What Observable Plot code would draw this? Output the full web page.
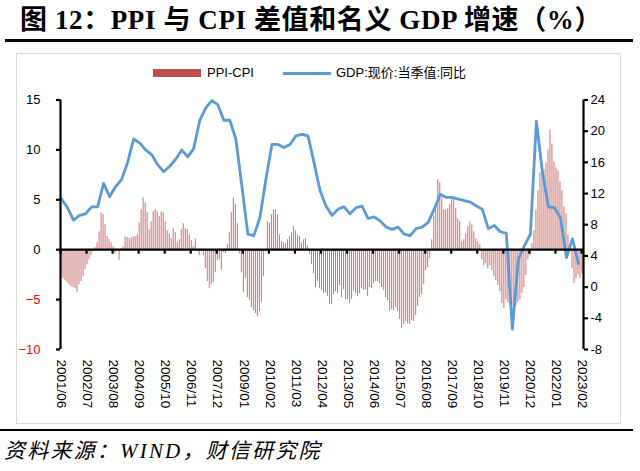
<!DOCTYPE html>
<html>
<head>
<meta charset="utf-8">
<script src="https://cdn.jsdelivr.net/npm/d3@7"></script>
<script src="https://cdn.jsdelivr.net/npm/@observablehq/plot@0.6"></script>
<style>
  body { margin: 0; background: white; }
  #wrap { position: relative; width: 640px; height: 471px; background: white; overflow: hidden; }
  #title { position: absolute; left: 20px; top: 4px; font-family: "Liberation Serif", "Noto Sans CJK SC", serif; font-weight: bold; font-size: 27px; letter-spacing: 0.6px; line-height: 32px; white-space: nowrap; color: #000; }
  .hrule { position: absolute; left: 5px; width: 628px; background: #000; }
  #chart { position: absolute; left: 0; top: 45px; }
  #box { position: absolute; left: 16px; top: 53px; width: 603px; height: 369px; border: 1px solid #d9d9d9; pointer-events: none; }
  .leg { position: absolute; font-family: "Liberation Sans", "Noto Sans CJK SC", sans-serif; font-size: 13px; line-height: 16px; color: #000; white-space: nowrap; }
  #source { position: absolute; left: 4px; top: 438px; font-family: "Liberation Serif", "Noto Sans CJK SC", serif; font-style: italic; font-size: 21px; letter-spacing: 2.2px; line-height: 26px; white-space: nowrap; color: #000; }
</style>
</head>
<body>
<div id="wrap">
  <div id="title">图 12：PPI 与 CPI 差值和名义 GDP 增速（%）</div>
  <div class="hrule" style="top:39px;height:3px"></div>
  <div id="chart"></div>
  <div id="box"></div>
  <div style="position:absolute;left:153px;top:69px;width:48px;height:8px;background:#c0504d"></div>
  <div class="leg" style="left:207px;top:65px">PPI-CPI</div>
  <div style="position:absolute;left:283px;top:72px;width:48px;height:3px;background:#5b9bd5"></div>
  <div class="leg" style="left:336px;top:65px">GDP:现价:当季值:同比</div>
  <div class="hrule" style="top:429px;height:2px;left:0;width:633px"></div>
  <div id="source">资料来源：WIND，财信研究院</div>
</div>
<script>
// PPI-CPI monthly spread, 2001/06 .. 2023/02
const ppiCpi = [
  -2.8, -2.9, -3.1, -3.3, -3.5, -3.7, -3.8,
  -3.9, -4.3, -3.5, -3.2, -2.7, -2.0, -1.5, -1.0, -0.6, -0.2, 0.2, 0.7,
  1.8, 3.7, 3.5, 2.5, 1.3, 1.0, 0.7, 0.3, -0.4, 0.1, -1.1, 0.1,
  0.3, 1.3, 1.2, 1.1, 1.2, 1.3, 1.3, 1.5, 2.7, 4.0, 5.2, 4.7,
  3.7, 2.0, 2.8, 3.8, 4.0, 3.8, 3.3, 3.8, 3.7, 2.8, 1.9, 1.6,
  1.1, 2.1, 1.7, 0.7, 1.0, 2.0, 2.6, 2.1, 2.0, 1.5, 0.9, 0.3,
  1.1, -0.1, -0.6, -0.1, -0.6, -1.9, -3.2, -3.9, -3.5, -3.3, -2.3, -1.1,
  -1.0, -2.1, -0.3, -0.4, 0.5, 1.7, 3.7, 5.2, 4.5, 2.6, -0.4, -2.3,
  -4.3, -2.9, -4.8, -5.1, -5.8, -6.1, -6.4, -6.7, -6.2, -5.3, -2.7, -0.2,
  2.8, 2.7, 3.5, 4.0, 4.0, 3.5, 1.5, 0.8, 0.7, 0.6, 1.0, 1.3,
  1.7, 2.3, 1.9, 1.5, 1.3, 0.7, 1.0, 1.1, 0.4, -0.5, -1.5, -2.4,
  -3.8, -3.2, -3.9, -4.1, -4.4, -4.3, -4.7, -5.5, -5.5, -4.5, -4.2, -4.4,
  -3.6, -4.8, -4.0, -5.0, -5.0, -5.4, -5.0, -4.2, -4.4, -4.7, -4.4, -3.9,
  -4.1, -4.0, -4.7, -3.8, -3.9, -3.4, -3.2, -3.2, -3.4, -3.8, -4.1, -4.8,
  -5.1, -6.2, -6.0, -6.1, -5.8, -6.2, -7.0, -7.9, -7.5, -7.2, -7.4, -7.5,
  -7.1, -7.2, -6.6, -5.7, -4.8, -4.5, -3.5, -2.1, -1.8, -0.9, 1.0, 3.4,
  4.4, 7.0, 6.7, 5.2, 4.0, 4.0, 4.1, 4.5, 5.3, 5.0, 4.1, 3.1,
  2.8, 0.8, 1.0, 1.6, 2.3, 2.8, 2.5, 1.8, 1.1, 0.8, 0.5, -1.0,
  -1.6, -1.4, -1.9, -1.6, -2.1, -2.7, -3.1, -3.6, -4.2, -5.4, -5.9, -5.0,
  -5.3, -5.6, -5.6, -5.9, -5.7, -5.3, -5.0, -4.4, -3.8, -2.6, -1.0, -0.6,
  0.6, 1.9, 4.0, 5.9, 7.7, 7.7, 8.0, 8.7, 10.0, 12.0, 10.6, 8.8,
  8.2, 7.9, 6.8, 5.9, 4.3, 3.6, 1.5, -0.2, -1.9, -3.4, -2.9, -2.5,
  -2.9, -2.4
];

// Nominal GDP, quarterly YoY (right axis), 2001Q2 .. 2022Q4
const gdpNominal = [
  11.3, 10.2, 8.6, 9.2, 9.4, 10.3, 10.3, 13.3, 11.6, 12.9, 13.8, 16.0,
  19.0, 18.5, 17.6, 17.0, 15.7, 14.8, 15.5, 16.4, 17.6, 16.7, 17.8, 21.4,
  23.0, 23.9, 23.4, 21.4, 21.4, 19.0, 13.0, 6.8, 6.6, 8.9, 13.8, 18.3,
  18.3, 17.9, 18.3, 19.4, 19.6, 19.4, 16.0, 12.4, 10.4, 9.2, 10.0, 10.3,
  9.4, 10.2, 10.4, 8.8, 9.0, 8.5, 7.7, 7.4, 7.7, 6.8, 6.6, 7.5,
  7.7, 8.3, 10.0, 11.9, 11.5, 11.5, 11.3, 11.1, 10.9, 10.4, 10.0, 7.5,
  7.9, 7.1, 6.9, -5.4, 3.6, 5.3, 6.8, 21.3, 14.7, 10.3, 10.2, 8.9,
  3.8, 6.2, 3.0
];

const xTickLabels = ["2001/06","2002/07","2003/08","2004/09","2005/10","2006/11","2007/12",
  "2009/01","2010/02","2011/03","2012/04","2013/05","2014/06","2015/07","2016/08",
  "2017/09","2018/10","2019/11","2020/12","2022/01","2023/02"];
const leftTicksPos = [0, 5, 10, 15];
const leftTicksNeg = [-5, -10];
const rightTicks = [-8, -4, 0, 4, 8, 12, 16, 20, 24];

const labelStep = 13;  // months between category labels
const gdpStep = 3;     // months between GDP observations

const leftMin = -10, leftMax = 15, rightMin = -8, rightMax = 24;
const toLeft = v => leftMin + (v - rightMin) * (leftMax - leftMin) / (rightMax - rightMin);
const fromLeft = l => rightMin + (l - leftMin) * (rightMax - rightMin) / (leftMax - leftMin);

const n = ppiCpi.length;
const months = d3.range(n);
const gdpIdx = d3.range(gdpNominal.length);
const labelPos = xTickLabels.map((_, k) => k * labelStep + 0.5);
const tickPos = xTickLabels.map((_, k) => k * labelStep);

const font = "'Liberation Sans', 'Noto Sans CJK SC', sans-serif";

const chart = Plot.plot({
  width: 640,
  height: 380,
  marginTop: 54.5,
  marginBottom: 76,
  marginLeft: 60,
  marginRight: 57,
  style: { background: "transparent", fontFamily: font, fontSize: "13px", color: "#000", overflow: "visible" },
  x: { domain: [0, n], axis: null },
  y: { domain: [leftMin, leftMax], axis: null },
  marks: [
    Plot.rect(months, { x1: i => i + 0.25, x2: i => i + 0.75, y1: 0, y2: i => ppiCpi[i], fill: "#c0504d", fillOpacity: 0.8 }),
    Plot.line(gdpIdx, { x: j => j * gdpStep + 0.5, y: j => toLeft(gdpNominal[j]), stroke: "#5b9bd5", strokeWidth: 2.8, strokeLinejoin: "round" }),
    Plot.ruleY([0], { x1: 0, x2: n, stroke: "#000", strokeWidth: 2.2 }),
    Plot.ruleX(tickPos, { x: d => d, y1: 0, y2: -0.45, stroke: "#000", strokeWidth: 2.2 }),
    Plot.ruleX([0], { y1: leftMin, y2: leftMax, stroke: "#000", strokeWidth: 2.2 }),
    Plot.ruleX([n], { y1: leftMin, y2: leftMax, stroke: "#000", strokeWidth: 2.2 }),
    Plot.axisY({ anchor: "left", ticks: leftTicksPos, tickSize: 4, tickPadding: 16, strokeWidth: 2.2, fill: "#000", fontSize: 13 }),
    Plot.axisY({ anchor: "left", ticks: leftTicksNeg, tickSize: 4, tickPadding: 16, strokeWidth: 2.2, stroke: "#000", fill: "#ff0000", fontSize: 13 }),
    Plot.axisY({ anchor: "right", ticks: rightTicks.map(toLeft), tickFormat: d => String(Math.round(fromLeft(d))), tickSize: 4, tickPadding: 3, strokeWidth: 2.2, fill: "#000", fontSize: 13 }),
    Plot.axisX({ anchor: "bottom", ticks: labelPos, tickFormat: d => xTickLabels[Math.round((d - 0.5) / labelStep)], tickRotate: 90, tickSize: 0, tickPadding: 10, fill: "#000", fontSize: 13.5 })
  ]
});
document.getElementById("chart").appendChild(chart);
</script>
</body>
</html>
